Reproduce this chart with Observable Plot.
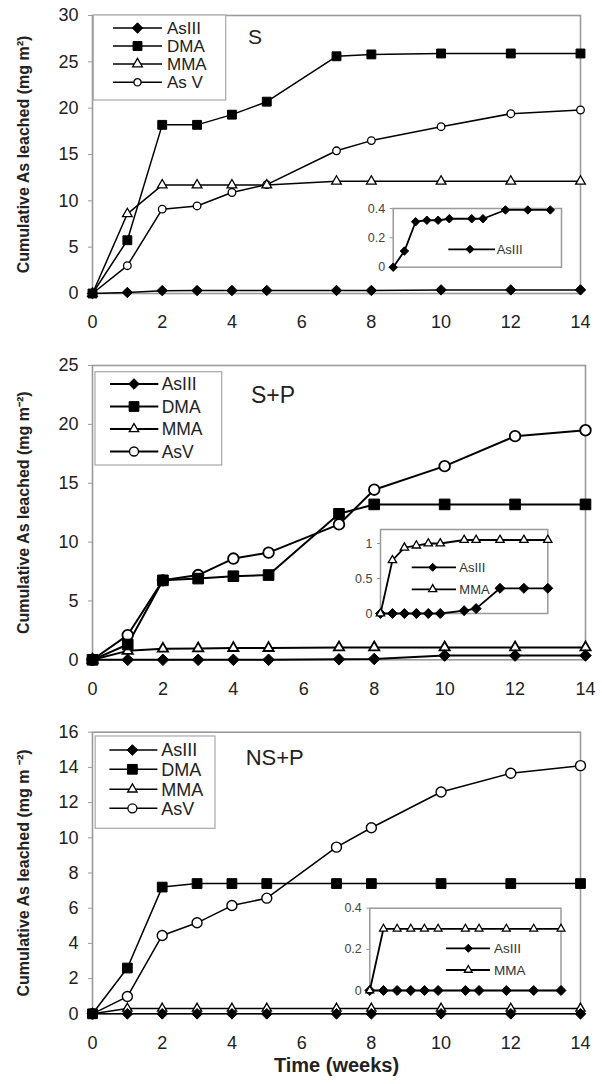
<!DOCTYPE html>
<html><head><meta charset="utf-8">
<script src="https://cdn.jsdelivr.net/npm/d3@7"></script>
<script src="https://cdn.jsdelivr.net/npm/@observablehq/plot@0.6"></script>
<style>
html,body{margin:0;padding:0;background:#fff;}
#fig{position:relative;width:602px;height:1084px;overflow:hidden;font-family:"Liberation Sans",Arial,sans-serif;background:#fff;}
#fig > svg{position:absolute;}
</style></head><body><div id="fig"></div>
<script>
// ---------- data ----------
const weeks = [0, 1, 2, 3, 4, 5, 7, 8, 10, 12, 14];
const xTicks = [0, 2, 4, 6, 8, 10, 12, 14];
const seriesNames = ["AsIII", "DMA", "MMA", "AsV"];
const legendLabelsS = ["AsIII", "DMA", "MMA", "As V"];
const legendLabels = ["AsIII", "DMA", "MMA", "AsV"];
const insetLegendS = ["AsIII"];
const insetLegend = ["AsIII", "MMA"];
const panelLabels = ["S", "S+P", "NS+P"];
const yTitles = ["Cumulative As leached (mg m²)", "Cumulative As leached (mg m⁻²)", "Cumulative As leached (mg m ⁻²)"];
const xTitle = "Time (weeks)";

// Panel S
const S_AsIII = [0, 0.11, 0.31, 0.32, 0.32, 0.33, 0.33, 0.33, 0.39, 0.39, 0.39];
const S_DMA   = [0, 5.75, 18.2, 18.2, 19.3, 20.7, 25.6, 25.8, 25.9, 25.9, 25.9];
const S_MMA   = [0, 8.6, 11.7, 11.7, 11.7, 11.7, 12.1, 12.1, 12.1, 12.1, 12.1];
const S_AsV   = [0, 3.0, 9.1, 9.45, 10.9, 11.75, 15.4, 16.5, 18.0, 19.4, 19.8];
// Panel S+P
const SP_AsIII = [0, 0, 0, 0, 0, 0, 0.04, 0.07, 0.36, 0.36, 0.36];
const SP_DMA   = [0, 1.3, 6.75, 6.9, 7.1, 7.2, 12.4, 13.2, 13.2, 13.2, 13.2];
const SP_MMA   = [0, 0.76, 0.94, 0.97, 1.0, 1.0, 1.05, 1.05, 1.05, 1.05, 1.05];
const SP_AsV   = [0, 2.1, 6.75, 7.2, 8.6, 9.1, 11.5, 14.45, 16.45, 19.0, 19.5];
// Panel NS+P
const NSP_AsIII = [0, 0, 0, 0, 0, 0, 0, 0, 0, 0, 0];
const NSP_DMA   = [0, 2.6, 7.2, 7.4, 7.4, 7.4, 7.4, 7.4, 7.4, 7.4, 7.4];
const NSP_MMA   = [0, 0.3, 0.3, 0.3, 0.3, 0.3, 0.3, 0.3, 0.3, 0.3, 0.3];
const NSP_AsV   = [0, 0.98, 4.45, 5.17, 6.15, 6.57, 9.47, 10.57, 12.6, 13.67, 14.1];

const yTicksS = [0, 5, 10, 15, 20, 25, 30];
const yTicksSP = [0, 5, 10, 15, 20, 25];
const yTicksNSP = [0, 2, 4, 6, 8, 10, 12, 14, 16];
const insetTicksS = [0, 0.2, 0.4];
const insetTicksSP = [0, 0.5, 1];
const insetTicksNSP = [0, 0.2, 0.4];

// ---------- helpers ----------
const FONT = '"Liberation Sans", Arial, sans-serif';
const symbolOf = {AsIII: "diamond2", DMA: "square", MMA: "triangle", AsV: "circle"};
const fillOf = {AsIII: "black", DMA: "black", MMA: "white", AsV: "white"};
const d3sym = {AsIII: d3.symbolDiamond2, DMA: d3.symbolSquare, MMA: d3.symbolTriangle, AsV: d3.symbolCircle};
const drawOrder = ["AsV", "MMA", "AsIII", "DMA"];

function toRows(series) {
  return Object.entries(series).flatMap(([name, vals]) =>
    vals.map((v, i) => ({week: weeks[i], value: v, series: name})));
}

const fig = document.getElementById("fig");

function mainPanel(c) {
  const data = toRows(c.series);
  const marks = [
    Plot.frame({stroke: "#9a9a9a", strokeWidth: 1.6}),
    Plot.axisY({ticks: c.yTicks, tickSize: 4, tickPadding: 10, fontSize: 18, stroke: "#9a9a9a", fill: "#222", label: null}),
    Plot.axisX({ticks: xTicks, tickSize: 0, tickPadding: 22, fontSize: 18, fill: "#222", label: null}),
    Plot.text([c.yTitle], {frameAnchor: "left", rotate: -90, dx: -69, textAnchor: "middle", lineAnchor: "middle",
      fontSize: 16, fontWeight: "bold", fill: "#222"}),
    Plot.line(data, {x: "week", y: "value", z: "series", stroke: "black", strokeWidth: c.lw})
  ];
  if (c.xTitle) marks.push(Plot.text([c.xTitle], {frameAnchor: "bottom", dy: 52, lineAnchor: "middle", textAnchor: "middle",
    fontSize: 20, fontWeight: "bold", fill: "#222"}));
  for (const n of drawOrder) {
    if (!c.series[n]) continue;
    marks.push(Plot.dot(data.filter(d => d.series === n), {
      x: "week", y: "value", symbol: symbolOf[n], r: c.r[n],
      fill: fillOf[n], stroke: "black", strokeWidth: fillOf[n] === "white" ? c.hw : 1
    }));
  }
  const svg = Plot.plot({
    width: 602, height: c.height,
    marginTop: c.mt, marginBottom: c.mb, marginLeft: 92, marginRight: c.mr,
    x: {domain: [0, 14]}, y: {domain: c.yDomain},
    style: {fontFamily: FONT, background: "transparent", overflow: "visible"},
    marks
  });
  svg.style.left = "0px"; svg.style.top = c.top + "px";
  fig.appendChild(svg);
}

function insetPanel(c) {
  const data = toRows(c.series);
  const marks = [
    Plot.frame({fill: "white", stroke: "#9a9a9a", strokeWidth: 1.5}),
    Plot.axisY({ticks: c.yTicks, tickFormat: d => String(d), tickSize: 3, tickPadding: 5, fontSize: 12.5,
      stroke: "#9a9a9a", fill: "#444", label: null}),
    Plot.line(data, {x: "week", y: "value", z: "series", stroke: "black", strokeWidth: 1.8})
  ];
  for (const n of ["AsIII", "MMA"]) {
    if (!c.series[n]) continue;
    marks.push(Plot.dot(data.filter(d => d.series === n), {
      x: "week", y: "value", symbol: symbolOf[n], r: c.r[n],
      fill: fillOf[n], stroke: "black", strokeWidth: fillOf[n] === "white" ? 1.3 : 1
    }));
  }
  const svg = Plot.plot({
    width: c.width, height: c.height,
    marginTop: c.mt, marginBottom: c.mb, marginLeft: c.ml, marginRight: c.mr,
    x: {domain: c.xDomain, axis: null}, y: {domain: c.yDomain},
    style: {fontFamily: FONT, background: "transparent", overflow: "visible"},
    marks
  });
  svg.style.left = c.left + "px"; svg.style.top = c.top + "px";
  fig.appendChild(svg);
}

// ---------- main panels ----------
mainPanel({top: 0, height: 340, mt: 15, mb: 47, mr: 22, yDomain: [0, 30], yTicks: yTicksS, yTitle: yTitles[0],
  lw: 1.5, hw: 1.3, r: {AsIII: 4.7, DMA: 5, MMA: 3.6, AsV: 3.8},
  series: {AsIII: S_AsIII, DMA: S_DMA, MMA: S_MMA, AsV: S_AsV}});
mainPanel({top: 340, height: 370, mt: 25, mb: 50.7, mr: 17, yDomain: [0, 25], yTicks: yTicksSP, yTitle: yTitles[1],
  lw: 2, hw: 1.8, r: {AsIII: 5.2, DMA: 6, MMA: 3.8, AsV: 5.3},
  series: {AsIII: SP_AsIII, DMA: SP_DMA, MMA: SP_MMA, AsV: SP_AsV}});
mainPanel({top: 710, height: 374, mt: 21.7, mb: 70.7, mr: 22, yDomain: [0, 16], yTicks: yTicksNSP, yTitle: yTitles[2],
  xTitle, lw: 1.5, hw: 1.4, r: {AsIII: 4.8, DMA: 5.5, MMA: 3.4, AsV: 5},
  series: {AsIII: NSP_AsIII, DMA: NSP_DMA, MMA: NSP_MMA, AsV: NSP_AsV}});

// ---------- insets ----------
insetPanel({left: 340, top: 195, width: 230, height: 80, ml: 52.7, mt: 13, mr: 9, mb: 8.3,
  xDomain: [0, 15], yDomain: [0, 0.4], yTicks: insetTicksS, r: {AsIII: 3.8},
  series: {AsIII: S_AsIII}});
insetPanel({left: 330, top: 515, width: 230, height: 110, ml: 50, mt: 14, mr: 12.7, mb: 12,
  xDomain: [0, 14], yDomain: [0, 1.2], yTicks: insetTicksSP, r: {AsIII: 4.5, MMA: 3.1},
  series: {AsIII: SP_AsIII, MMA: SP_MMA}});
insetPanel({left: 320, top: 895, width: 250, height: 105, ml: 49.3, mt: 12.7, mr: 9.5, mb: 10,
  xDomain: [0, 14], yDomain: [0, 0.4], yTicks: insetTicksNSP, r: {AsIII: 4.5, MMA: 2.9},
  series: {AsIII: NSP_AsIII, MMA: NSP_MMA}});

// ---------- overlay: legends and panel labels ----------
const ov = d3.select(fig).append("svg")
  .attr("width", 602).attr("height", 1084)
  .style("left", "0px").style("top", "0px")
  .style("font-family", FONT);

function legend(L) {
  const g = ov.append("g");
  if (L.box) g.append("rect").attr("x", L.box[0]).attr("y", L.box[1])
    .attr("width", L.box[2] - L.box[0]).attr("height", L.box[3] - L.box[1])
    .attr("fill", "white").attr("stroke", "#a8a8a8").attr("stroke-width", 1.2);
  L.names.forEach((n, i) => {
    const y = L.ys[i];
    g.append("line").attr("x1", L.x1).attr("x2", L.x2).attr("y1", y).attr("y2", y)
      .attr("stroke", "black").attr("stroke-width", L.lw);
    g.append("path").attr("d", d3.symbol(d3sym[n], Math.PI * L.r[n] * L.r[n])())
      .attr("transform", `translate(${L.xm},${y})`)
      .attr("fill", fillOf[n]).attr("stroke", "black").attr("stroke-width", fillOf[n] === "white" ? 1.3 : 1);
    g.append("text").attr("x", L.xt).attr("y", y).attr("dy", "0.35em")
      .attr("font-size", L.fs).attr("fill", L.color).text(L.labels[i]);
  });
}

legend({box: [93.3, 15, 225.7, 100], names: seriesNames, labels: legendLabelsS, ys: [28, 46, 64, 82.3],
  x1: 113, x2: 162, xm: 137.5, xt: 167, fs: 17, lw: 1.5, color: "#222",
  r: {AsIII: 4.7, DMA: 5, MMA: 3.6, AsV: 3.6}});
legend({box: [95, 371.7, 221.7, 465], names: seriesNames, labels: legendLabels, ys: [384, 406.5, 429, 451.5],
  x1: 110, x2: 158.3, xm: 134, xt: 161.7, fs: 17.5, lw: 2, color: "#222",
  r: {AsIII: 4.8, DMA: 5.5, MMA: 3.5, AsV: 4.5}});
legend({box: [95.2, 736, 215, 828.3], names: seriesNames, labels: legendLabels, ys: [750, 769.3, 789.3, 808.3],
  x1: 109.4, x2: 157.4, xm: 132.4, xt: 161.2, fs: 18, lw: 1.5, color: "#222",
  r: {AsIII: 4.8, DMA: 5.5, MMA: 3.5, AsV: 4.5}});

legend({names: ["AsIII"], labels: insetLegendS, ys: [249.3], x1: 448.3, x2: 495, xm: 470, xt: 496.7,
  fs: 13, lw: 1.8, color: "#333", r: {AsIII: 3.6}});
legend({names: ["AsIII", "MMA"], labels: insetLegend, ys: [567.3, 589.3], x1: 411.7, x2: 456, xm: 432.7, xt: 459.3,
  fs: 13, lw: 1.8, color: "#333", r: {AsIII: 3.6, MMA: 3}});
legend({names: ["AsIII", "MMA"], labels: insetLegend, ys: [948.3, 970], x1: 446, x2: 490, xm: 468.3, xt: 494,
  fs: 13.5, lw: 1.8, color: "#333", r: {AsIII: 3.6, MMA: 2.9}});

const labelPos = [[248, 43.5, 21], [251, 403, 23], [245.7, 765, 22]];
panelLabels.forEach((t, i) => {
  ov.append("text").attr("x", labelPos[i][0]).attr("y", labelPos[i][1])
    .attr("font-size", labelPos[i][2]).attr("fill", "#222").text(t);
});
</script></body></html>
